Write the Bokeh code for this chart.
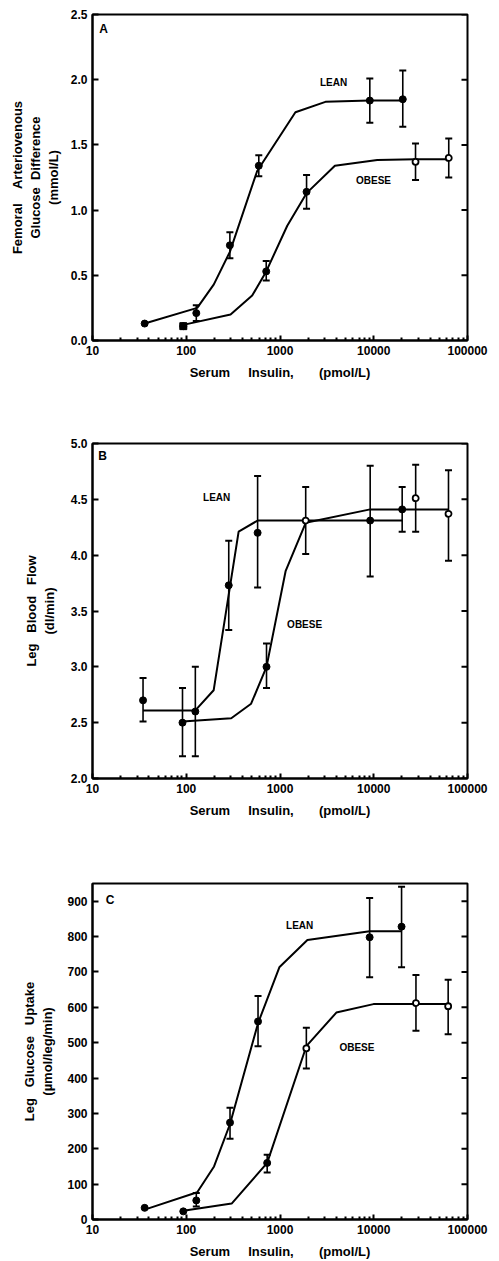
import math
from bokeh.plotting import figure
from bokeh.layouts import column
from bokeh.models import FixedTicker, Label, NumeralTickFormatter
from bokeh.embed import file_html
from bokeh.resources import INLINE

# ---------------- data ----------------
x_ticks = [10, 100, 1000, 10000, 100000]
x_tick_labels = ["10", "100", "1000", "10000", "100000"]

# Panel A: femoral arteriovenous glucose difference (mmol/L)
A_lean_x = [36, 128, 292, 594, 9080, 20400]
A_lean_y = [0.13, 0.21, 0.73, 1.34, 1.84, 1.85]
A_lean_hi = [None, 0.27, 0.83, 1.42, 2.01, 2.07]
A_lean_lo = [None, 0.15, 0.63, 1.26, 1.67, 1.64]
A_lean_open = [False, False, False, False, False, False]
A_lean_fit_x = [36, 131, 197, 292, 571, 1460, 3050, 9080, 20400]
A_lean_fit_y = [0.13, 0.25, 0.43, 0.68, 1.30, 1.75, 1.83, 1.84, 1.84]

A_obese_x = [93, 713, 1920, 27900, 63100]
A_obese_y = [0.11, 0.53, 1.14, 1.37, 1.40]
A_obese_hi = [None, 0.61, 1.27, 1.51, 1.55]
A_obese_lo = [None, 0.46, 1.01, 1.23, 1.25]
A_obese_open = [False, False, False, True, True]
A_obese_fit_x = [93, 297, 505, 713, 1195, 1920, 3850, 10900, 27900, 63100]
A_obese_fit_y = [0.12, 0.20, 0.345, 0.53, 0.88, 1.13, 1.34, 1.385, 1.39, 1.39]

# Panel B: leg blood flow (dl/min)
B_lean_x = [34.6, 125, 284, 577, 9160, 20100]
B_lean_y = [2.70, 2.60, 3.73, 4.20, 4.31, 4.41]
B_lean_hi = [2.90, 3.00, 4.13, 4.71, 4.80, 4.61]
B_lean_lo = [2.51, 2.20, 3.33, 3.71, 3.81, 4.21]
B_lean_open = [False, False, False, False, False, False]
B_lean_fit_x = [34.6, 125, 196, 362, 577, 20100]
B_lean_fit_y = [2.61, 2.61, 2.79, 4.21, 4.31, 4.31]

B_obese_x = [91.2, 718, 1880, 28000, 62700]
B_obese_y = [2.50, 3.00, 4.31, 4.51, 4.37]
B_obese_hi = [2.81, 3.21, 4.61, 4.81, 4.76]
B_obese_lo = [2.20, 2.81, 4.01, 4.21, 3.95]
B_obese_open = [False, False, True, True, True]
B_obese_fit_x = [91.2, 302, 492, 718, 1150, 1880, 9160, 62700]
B_obese_fit_y = [2.51, 2.54, 2.67, 3.00, 3.86, 4.29, 4.41, 4.41]

# Panel C: leg glucose uptake (umol/leg/min)
C_lean_x = [36, 128, 293, 583, 9040, 19800]
C_lean_y = [33, 54, 274, 560, 798, 828]
C_lean_hi = [None, 75, 316, 632, 909, 941]
C_lean_lo = [None, 37, 228, 490, 685, 713]
C_lean_open = [False, False, False, False, False, False]
C_lean_fit_x = [36, 131, 198, 293, 583, 984, 1960, 9040, 19800]
C_lean_fit_y = [28, 77, 150, 270, 555, 713, 790, 815, 815]

C_obese_x = [93, 730, 1910, 28200, 62200]
C_obese_y = [23, 160, 484, 612, 603]
C_obese_hi = [None, 183, 542, 691, 678]
C_obese_lo = [None, 133, 427, 534, 524]
C_obese_open = [False, False, True, True, True]
C_obese_fit_x = [93, 305, 730, 1910, 3990, 9930, 62200]
C_obese_fit_y = [25, 45, 160, 490, 585, 609, 609]

FONT = "Liberation Sans"
minor = [m * 10 ** e for e in range(1, 5) for m in range(2, 10)]
NB = "\u00a0"


def make_panel(height, borders, y_range, y_ticks, y_fmt, y_title, y_standoff, letter, letter_pos,
               lean_lbl_pos, obese_lbl_pos, series, first_square=False):
    top, bottom, left, right = borders
    p = figure(width=499, height=height, x_axis_type="log", x_range=(10, 100000),
               y_range=y_range, output_backend="svg", toolbar_location=None,
               min_border_top=top, min_border_bottom=bottom,
               min_border_left=left, min_border_right=right)
    p.grid.visible = False
    p.outline_line_color = "black"
    p.outline_line_width = 2
    p.background_fill_color = "white"
    p.border_fill_color = "white"

    xa = p.xaxis[0]
    xa.ticker = FixedTicker(ticks=x_ticks, minor_ticks=minor)
    xa.major_label_overrides = {t: s for t, s in zip(x_ticks, x_tick_labels)}
    xa.major_tick_in = 5
    xa.major_tick_out = 0
    xa.minor_tick_in = 3
    xa.minor_tick_out = 0
    xa.axis_line_width = 2
    xa.axis_line_color = "black"
    xa.major_tick_line_color = "black"
    xa.minor_tick_line_color = "black"
    xa.major_tick_line_width = 2
    xa.minor_tick_line_width = 2
    xa.major_label_text_font = FONT
    xa.major_label_text_font_style = "bold"
    xa.major_label_text_font_size = "12px"
    xa.major_label_text_color = "black"
    xa.major_label_standoff = 5
    xa.axis_label = "Serum" + NB * 5 + "Insulin," + NB * 7 + "(pmol/L)"
    xa.axis_label_text_font = FONT
    xa.axis_label_text_font_style = "bold"
    xa.axis_label_text_font_size = "13px"
    xa.axis_label_text_color = "black"
    xa.axis_label_standoff = 7

    ya = p.yaxis[0]
    ya.ticker = FixedTicker(ticks=y_ticks)
    ya.formatter = NumeralTickFormatter(format=y_fmt)
    ya.major_tick_in = 6
    ya.major_tick_out = 0
    ya.minor_tick_line_color = None
    ya.axis_line_width = 2
    ya.axis_line_color = "black"
    ya.major_tick_line_color = "black"
    ya.major_tick_line_width = 2
    ya.major_label_text_font = FONT
    ya.major_label_text_font_style = "bold"
    ya.major_label_text_font_size = "12px"
    ya.major_label_text_color = "black"
    ya.major_label_standoff = 5
    ya.axis_label = y_title
    ya.axis_label_text_font = FONT
    ya.axis_label_text_font_style = "bold"
    ya.axis_label_text_font_size = "13px"
    ya.axis_label_text_color = "black"
    ya.axis_label_standoff = y_standoff

    # inward ticks on the right frame edge (clipped to the frame)
    p.scatter([x_ticks[-1]] * len(y_ticks), y_ticks, marker="dash", size=12,
              line_color="black", line_width=2)

    for (xs, ys, his, los, opens, fx, fy) in series:
        p.line(fx, fy, line_color="black", line_width=2)
        ex = [x for x, h in zip(xs, his) if h is not None]
        eh = [h for h in his if h is not None]
        el = [l for l, h in zip(los, his) if h is not None]
        p.segment(x0=ex, y0=el, x1=ex, y1=eh, line_color="black", line_width=1.6)
        p.scatter(ex, eh, marker="dash", size=7, line_color="black", line_width=2)
        p.scatter(ex, el, marker="dash", size=7, line_color="black", line_width=2)
        fx_ = [x for x, o in zip(xs, opens) if not o]
        fy_ = [y for y, o in zip(ys, opens) if not o]
        ox_ = [x for x, o in zip(xs, opens) if o]
        oy_ = [y for y, o in zip(ys, opens) if o]
        p.scatter(fx_, fy_, marker="circle", size=7, fill_color="black", line_color="black")
        p.scatter(ox_, oy_, marker="circle", size=6, fill_color="white", line_color="black",
                  line_width=1.8)

    if first_square:
        xs, ys = series[1][0], series[1][1]
        p.scatter([xs[0]], [ys[0]], marker="square", size=7, fill_color="black", line_color="black")

    p.add_layout(Label(x=letter_pos[0], y=letter_pos[1], text=letter, text_font=FONT,
                       text_font_style="bold", text_font_size="12px", text_color="black",
                       text_align="center", text_baseline="middle"))
    p.add_layout(Label(x=lean_lbl_pos[0], y=lean_lbl_pos[1], text="LEAN", text_font=FONT,
                       text_font_style="bold", text_font_size="10px", text_color="black",
                       text_align="center", text_baseline="middle"))
    p.add_layout(Label(x=obese_lbl_pos[0], y=obese_lbl_pos[1], text="OBESE", text_font=FONT,
                       text_font_style="bold", text_font_size="10px", text_color="black",
                       text_align="center", text_baseline="middle"))
    return p


pA = make_panel(400, (14, 60, 92, 32), (0, 2.5), [0, 0.5, 1.0, 1.5, 2.0, 2.5], "0.0",
                "Femoral" + NB * 4 + "Arteriovenous\nGlucose" + NB * 2 + "Difference\n(mmol/L)", 7,
                "A", (13.1, 2.39), (3720, 1.98), (9930, 1.23),
                [(A_lean_x, A_lean_y, A_lean_hi, A_lean_lo, A_lean_open, A_lean_fit_x, A_lean_fit_y),
                 (A_obese_x, A_obese_y, A_obese_hi, A_obese_lo, A_obese_open, A_obese_fit_x, A_obese_fit_y)],
                first_square=True)

pB = make_panel(440, (43, 62, 82, 27), (2.0, 5.0), [2.0, 2.5, 3.0, 3.5, 4.0, 4.5, 5.0], "0.0",
                "Leg" + NB * 3 + "Blood" + NB * 3 + "Flow\n(dl/min)", 11,
                "B", (12.8, 4.89), (211, 4.52), (1830, 3.38),
                [(B_lean_x, B_lean_y, B_lean_hi, B_lean_lo, B_lean_open, B_lean_fit_x, B_lean_fit_y),
                 (B_obese_x, B_obese_y, B_obese_hi, B_obese_lo, B_obese_open, B_obese_fit_x, B_obese_fit_y)])

pC = make_panel(421, (43, 41, 86, 25), (0, 950), [0, 100, 200, 300, 400, 500, 600, 700, 800, 900], "0",
                "Leg" + NB * 3 + "Glucose" + NB * 3 + "Uptake\n(\u00b5mol/leg/min)", 9,
                "C", (15.4, 904), (1620, 831), (6610, 485),
                [(C_lean_x, C_lean_y, C_lean_hi, C_lean_lo, C_lean_open, C_lean_fit_x, C_lean_fit_y),
                 (C_obese_x, C_obese_y, C_obese_hi, C_obese_lo, C_obese_open, C_obese_fit_x, C_obese_fit_y)])

layout = column(pA, pB, pC, spacing=0)
open("out.html", "w").write(file_html(layout, INLINE))
